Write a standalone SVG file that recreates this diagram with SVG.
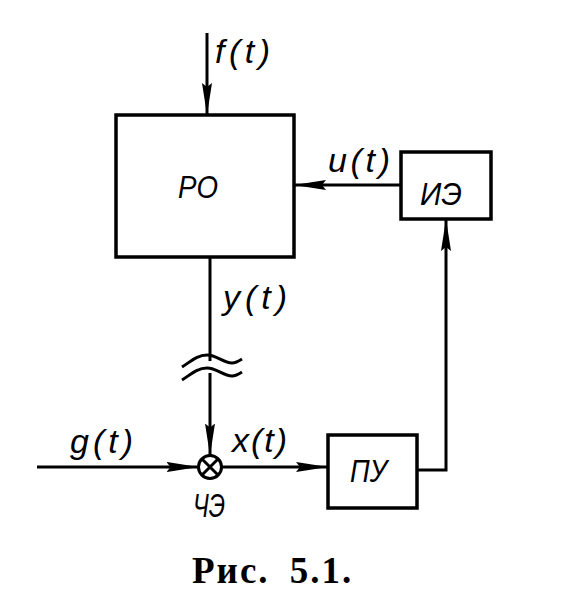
<svg xmlns="http://www.w3.org/2000/svg" width="567" height="607" viewBox="0 0 567 607">
<defs>
<marker id="ah" markerUnits="userSpaceOnUse" markerWidth="34" markerHeight="12" refX="32" refY="6" orient="auto">
<path d="M0,1 L32,6 L0,11 L4,6 Z" fill="#000"/>
</marker>
<style>
.box{fill:none;stroke:#000;stroke-width:3.5}
.ln{fill:none;stroke:#000;stroke-width:3}
.lbl{font-family:"Liberation Sans","DejaVu Sans",sans-serif;font-style:italic;font-size:34px;fill:#000}
.nm{font-family:"Liberation Sans","DejaVu Sans",sans-serif;font-style:italic;font-size:31px;fill:#000}
.cap{font-family:"Liberation Serif","DejaVu Serif",serif;font-size:37px;font-weight:bold;fill:#000;letter-spacing:2px;word-spacing:9px}
</style>
</defs>
<rect width="567" height="607" fill="#fff"/>
<g id="RO">
<rect class="box" x="116" y="115" width="178" height="142"/>
<text class="nm" x="178" y="198" textLength="40" lengthAdjust="spacingAndGlyphs">РО</text>
</g>
<g id="IE">
<rect class="box" x="401" y="152" width="90" height="67"/>
<text class="nm" x="420" y="205" textLength="42" lengthAdjust="spacingAndGlyphs">ИЭ</text>
</g>
<g id="PU">
<rect class="box" x="328" y="435" width="89" height="73"/>
<text class="nm" x="350" y="482" textLength="37" lengthAdjust="spacingAndGlyphs">ПУ</text>
</g>
<g id="CHE">
<circle cx="210" cy="467" r="11.5" fill="#fff" stroke="#000" stroke-width="3"/>
<path class="ln" d="M202,459 L218,475 M218,459 L202,475" stroke-width="2.5"/>
<text class="nm" x="193" y="517" style="font-size:34px" textLength="32" lengthAdjust="spacingAndGlyphs">ЧЭ</text>
</g>
<g id="connectors">
<line class="ln" x1="207" y1="33" x2="207" y2="115" marker-end="url(#ah)"/>
<line class="ln" x1="401" y1="185" x2="294" y2="185" marker-end="url(#ah)"/>
<line class="ln" x1="210" y1="257" x2="210" y2="361"/>
<line class="ln" x1="210" y1="373" x2="210" y2="455.5" marker-end="url(#ah)"/>
<path class="ln" d="M182,367 C190,362 197,355 207,355 C217,355 223,363 232,363 C236,363 239,361 242,359" stroke-width="2.5"/>
<path class="ln" d="M182,380 C190,375 197,368 207,368 C217,368 223,376 232,376 C236,376 239,374 242,372" stroke-width="2.5"/>
<line class="ln" x1="37" y1="467" x2="198.5" y2="467" marker-end="url(#ah)"/>
<line class="ln" x1="221.5" y1="467" x2="328" y2="467" marker-end="url(#ah)"/>
<polyline class="ln" points="417,470 446,470 446,219" marker-end="url(#ah)"/>
</g>
<g id="labels">
<text class="lbl" x="215" y="63" textLength="55" lengthAdjust="spacing">f(t)</text>
<text class="lbl" x="328" y="172" textLength="62" lengthAdjust="spacing">u(t)</text>
<text class="lbl" x="223" y="309" textLength="64" lengthAdjust="spacing">y(t)</text>
<text class="lbl" x="70" y="453" textLength="63" lengthAdjust="spacing">g(t)</text>
<text class="lbl" x="232" y="452" textLength="55" lengthAdjust="spacing">x(t)</text>
</g>
<text class="cap" x="192" y="583">Рис. 5.1.</text>
</svg>
